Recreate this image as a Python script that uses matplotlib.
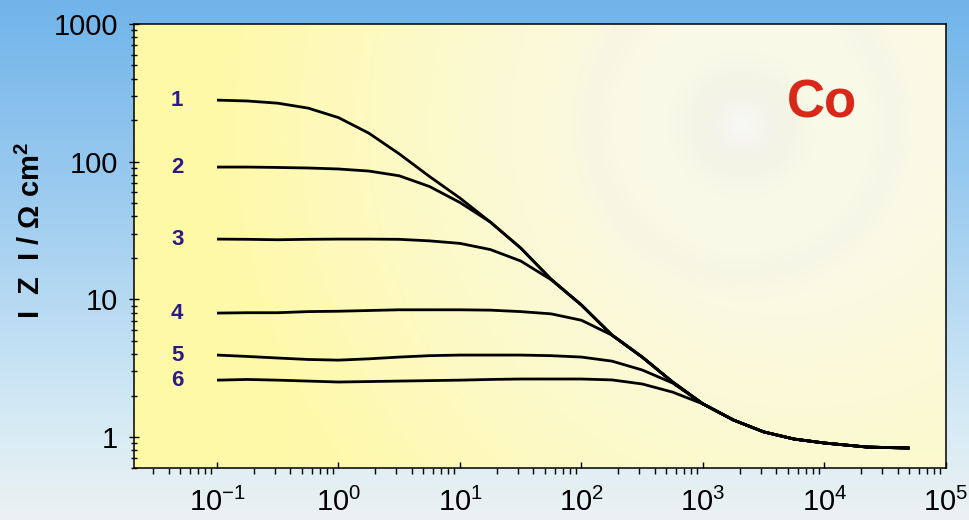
import numpy as np
import matplotlib
matplotlib.use("Agg")
import matplotlib.pyplot as plt
from matplotlib import ticker

plt.rcParams['font.family'] = ['Liberation Sans', 'DejaVu Sans']
plt.rcParams['mathtext.fontset'] = 'custom'
plt.rcParams['mathtext.rm'] = 'Liberation Sans'
plt.rcParams['mathtext.it'] = 'Liberation Sans:italic'
plt.rcParams['mathtext.bf'] = 'Liberation Sans:bold'
plt.rcParams['axes.unicode_minus'] = False

# Impedance modulus |Z| (Ohm cm^2) versus frequency (Hz)
freq = [0.1, 0.178, 0.316, 0.562, 1, 1.78, 3.16, 5.62, 10, 17.8, 31.6, 56.2,
        100, 178, 316, 562, 1000, 1780, 3160, 5620, 10000, 22400, 50000]
z1 = [280, 276, 266, 245, 209, 161, 114, 78, 54.4, 36.4, 23.6, 14.0,
      9.09, 5.51, 3.81, 2.51, 1.74, 1.33, 1.09, 0.967, 0.905, 0.846, 0.832]
z2 = [91.4, 91.4, 90.8, 90.0, 88.5, 85.5, 79.0, 66.0, 50.5, 36.4, 23.6, 14.0,
      9.09, 5.51, 3.81, 2.51, 1.74, 1.33, 1.09, 0.967, 0.905, 0.846, 0.832]
z3 = [27.4, 27.3, 27.1, 27.3, 27.4, 27.4, 27.3, 26.6, 25.5, 23.0, 19.0, 13.9,
      9.09, 5.51, 3.81, 2.51, 1.74, 1.33, 1.09, 0.967, 0.905, 0.846, 0.832]
z4 = [7.95, 8.0, 8.0, 8.15, 8.2, 8.3, 8.4, 8.4, 8.4, 8.35, 8.15, 7.85,
      7.05, 5.5, 3.81, 2.51, 1.74, 1.33, 1.09, 0.967, 0.905, 0.846, 0.832]
z5 = [3.94, 3.85, 3.75, 3.66, 3.62, 3.70, 3.81, 3.90, 3.94, 3.94, 3.94, 3.90,
      3.81, 3.56, 3.07, 2.47, 1.74, 1.33, 1.09, 0.967, 0.905, 0.846, 0.832]
z6 = [2.59, 2.62, 2.59, 2.55, 2.51, 2.53, 2.55, 2.57, 2.59, 2.62, 2.64, 2.64,
      2.64, 2.60, 2.43, 2.12, 1.74, 1.33, 1.09, 0.967, 0.905, 0.846, 0.832]
curves = [z1, z2, z3, z4, z5, z6]
curve_labels = ["1", "2", "3", "4", "5", "6"]
label_freq = 0.047

x_ticks = [0.1, 1, 10, 100, 1000, 10000, 100000]
y_ticks = [1, 10, 100, 1000]
y_ticklabels = ["1", "10", "100", "1000"]

W, H = 970, 520
fig = plt.figure(figsize=(W / 100, H / 100), dpi=100)

# sky-like backdrop
bg = fig.add_axes([0, 0, 1, 1], zorder=-3)
rows = np.linspace(0, 1, H)
stops = [0, 0.45, 0.8, 1]
cols = np.array([[112, 180, 234], [165, 208, 240], [212, 234, 245], [236, 242, 242]]) / 255
grad = np.stack([np.interp(rows, stops, cols[:, k]) for k in range(3)], axis=-1)
bg.imshow(np.repeat(grad[:, None, :], 40, axis=1), aspect='auto',
          extent=[0, 1, 0, 1], interpolation='bilinear')
bg.set_axis_off()

# plot area position
L, R, T, B = 134, 946, 24, 468
rect = [L / W, 1 - B / H, (R - L) / W, (B - T) / H]

# plot area fill: yellow fading to pale near a faint disc
pa = fig.add_axes(rect, zorder=-2)
pw, ph = R - L, B - T
u = np.arange(pw)[None, :]
v = np.arange(ph)[:, None]
cx, cy = 608, 100
d = np.hypot(u - cx, v - cy)
t = np.clip(1 - d / 520, 0, 1) ** 0.9
t = np.clip(t + 0.3 * (u / pw), 0, 1)
yellow = np.array([255, 249, 166]) / 255
pale = np.array([250, 250, 232]) / 255
img = yellow * (1 - t[..., None]) + pale * t[..., None]
gray = np.array([236, 236, 228]) / 255
a = 0.6 * np.exp(-(d / 62) ** 4)
img = img * (1 - a[..., None]) + gray * a[..., None]
w = 0.7 * np.exp(-(d / 24) ** 2)
img = img * (1 - w[..., None]) + np.array([0.985, 0.985, 0.98]) * w[..., None]
ring = 0.25 * np.exp(-((d - 150) / 18) ** 2) * (u > 420)
img = img * (1 - ring[..., None]) + gray * ring[..., None]
pa.imshow(img, aspect='auto', extent=[0, 1, 0, 1], interpolation='bilinear')
pa.set_axis_off()

ax = fig.add_axes(rect, zorder=1)
ax.set_facecolor('none')
ax.set_xscale('log')
ax.set_yscale('log')

for z in curves:
    ax.plot(freq, z, color='black', lw=2.0, solid_capstyle='butt',
            solid_joinstyle='round')

for lab, z in zip(curve_labels, curves):
    ax.text(label_freq, z[0], lab, color='#2a1a8c', fontsize=16, fontweight='bold',
            ha='center', va='center')

ax.set_xlim(0.02075, 1e5)
ax.set_ylim(0.596, 1000)

ax.xaxis.set_major_locator(ticker.FixedLocator(x_ticks))
ax.xaxis.set_major_formatter(ticker.LogFormatterMathtext())
ax.xaxis.set_minor_locator(ticker.LogLocator(base=10, subs=np.arange(2, 10), numticks=30))
ax.xaxis.set_minor_formatter(ticker.NullFormatter())
ax.yaxis.set_major_locator(ticker.FixedLocator(y_ticks))
ax.yaxis.set_major_formatter(ticker.FixedFormatter(y_ticklabels))
ax.yaxis.set_minor_locator(ticker.LogLocator(base=10, subs=np.arange(2, 10), numticks=30))
ax.yaxis.set_minor_formatter(ticker.NullFormatter())

ax.tick_params(axis='x', which='major', direction='in', length=4, width=1,
               labelsize=21, pad=14)
ax.tick_params(axis='x', which='minor', direction='out', length=4, width=1)
ax.tick_params(axis='y', which='major', direction='inout', length=7, width=1,
               labelsize=21, pad=8)
ax.tick_params(axis='y', which='minor', direction='inout', length=5, width=1)
for s in ax.spines.values():
    s.set_linewidth(1.1)
    s.set_color('black')

fig.text(31 / W, 1 - 231 / H, "I  Z  I / \u03a9 cm$^\\mathbf{2}$", rotation=90,
         fontsize=21, fontweight='bold', ha='center', va='center')

ax.text(822, H - 103, "Co", transform=None, color='#d8281a', fontsize=38,
        fontweight='bold', ha='center', va='center')

fig.savefig("out.png", dpi=100)
